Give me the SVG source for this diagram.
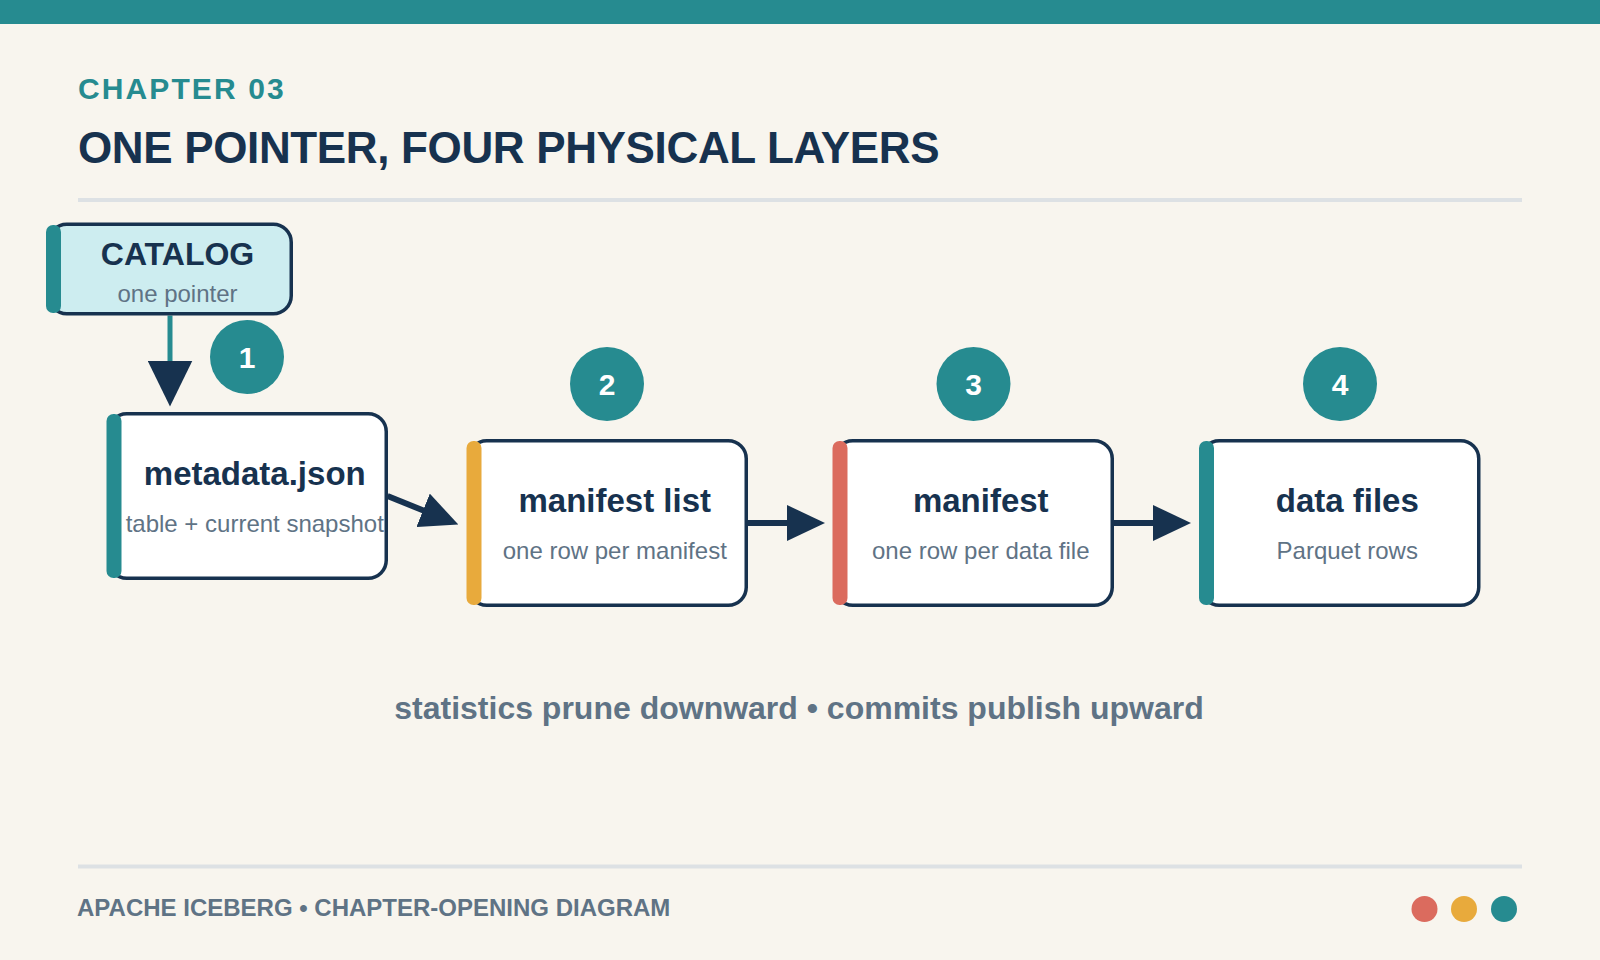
<svg xmlns="http://www.w3.org/2000/svg" width="1600" height="960" viewBox="0 0 1600 960">
  <defs>
    <style>
      .bg { fill: #f8f5ee; }
      .rule { stroke: #dde1e4; stroke-width: 4; }
      .kicker { font-family: "Liberation Sans", Arial, sans-serif; font-weight: 700; font-size: 30px; fill: #268b90; letter-spacing: 2.1px; }
      .title { font-family: "Liberation Sans", Arial, sans-serif; font-weight: 700; font-size: 44px; fill: #17324f; letter-spacing: -0.35px; }
      .box { fill: #ffffff; stroke: #17324f; stroke-width: 3.5; }
      .cat { fill: #cdedf0; stroke: #17324f; stroke-width: 3.5; }
      .name { font-family: "Liberation Sans", Arial, sans-serif; font-weight: 700; font-size: 33px; fill: #17324f; text-anchor: middle; }
      .catname { font-family: "Liberation Sans", Arial, sans-serif; font-weight: 700; font-size: 32px; fill: #17324f; text-anchor: middle; }
      .sub { font-family: "Liberation Sans", Arial, sans-serif; font-size: 24px; fill: #5f7385; text-anchor: middle; }
      .badge { fill: #268b90; }
      .num { font-family: "Liberation Sans", Arial, sans-serif; font-weight: 700; font-size: 30px; fill: #ffffff; text-anchor: middle; }
      .conn { stroke: #17324f; stroke-width: 6; fill: none; }
      .conn-cat { stroke: #268b90; stroke-width: 5; fill: none; }
      .caption { font-family: "Liberation Sans", Arial, sans-serif; font-weight: 700; font-size: 32px; fill: #5f7385; text-anchor: middle; }
      .footer { font-family: "Liberation Sans", Arial, sans-serif; font-weight: 700; font-size: 24px; fill: #5f7385; }
    </style>
    <marker id="arr" markerUnits="userSpaceOnUse" markerWidth="38" markerHeight="36" viewBox="0 0 38 36" refX="1" refY="18" orient="auto">
      <path d="M0,0 L38,18 L0,36 Z" fill="#17324f"/>
    </marker>
    <marker id="arrBig" markerUnits="userSpaceOnUse" markerWidth="46" markerHeight="45" viewBox="0 0 46 45" refX="1" refY="22.5" orient="auto">
      <path d="M0,0 L46,22.5 L0,45 Z" fill="#17324f"/>
    </marker>
  </defs>

  <rect class="bg" x="0" y="0" width="1600" height="960"/>
  <rect x="0" y="0" width="1600" height="24" fill="#268b90"/>

  <g id="header">
    <text class="kicker" x="78" y="99">CHAPTER 03</text>
    <text class="title" x="78" y="163">ONE POINTER, FOUR PHYSICAL LAYERS</text>
    <line class="rule" x1="78" y1="200" x2="1522" y2="200" stroke-width="3.5"/>
  </g>

  <g id="connectors">
    <line class="conn-cat" x1="170" y1="315.5" x2="170" y2="361.5" marker-end="url(#arrBig)"/>
    <line class="conn" x1="387.5" y1="496" x2="424" y2="510.7" marker-end="url(#arr)"/>
    <line class="conn" x1="748" y1="523" x2="788" y2="523" marker-end="url(#arr)"/>
    <line class="conn" x1="1114" y1="523" x2="1154" y2="523" marker-end="url(#arr)"/>
  </g>

  <g id="catalog">
    <rect class="cat" x="48.75" y="224.25" width="242.5" height="89.5" rx="18"/>
    <rect x="46" y="225" width="15" height="88" rx="7" fill="#268b90"/>
    <text class="catname" x="177.5" y="264.5">CATALOG</text>
    <text class="sub" x="177.5" y="302">one pointer</text>
  </g>

  <g id="metadata">
    <rect class="box" x="108.75" y="413.75" width="277.5" height="164.5" rx="18"/>
    <rect x="106.5" y="414" width="15" height="164" rx="7" fill="#268b90"/>
    <text class="name" x="254.75" y="485">metadata.json</text>
    <text class="sub" x="254.75" y="532">table + current snapshot</text>
    <circle class="badge" cx="247" cy="357" r="37"/>
    <text class="num" x="247" y="368">1</text>
  </g>

  <g id="manifest-list">
    <rect class="box" x="468.75" y="440.75" width="277.5" height="164.5" rx="18"/>
    <rect x="466.5" y="441" width="15" height="164" rx="7" fill="#e8aa3c"/>
    <text class="name" x="614.75" y="512">manifest list</text>
    <text class="sub" x="614.75" y="559">one row per manifest</text>
    <circle class="badge" cx="607" cy="384" r="37"/>
    <text class="num" x="607" y="395">2</text>
  </g>

  <g id="manifest">
    <rect class="box" x="834.75" y="440.75" width="277.5" height="164.5" rx="18"/>
    <rect x="832.5" y="441" width="15" height="164" rx="7" fill="#db6b5e"/>
    <text class="name" x="980.75" y="512">manifest</text>
    <text class="sub" x="980.75" y="559">one row per data file</text>
    <circle class="badge" cx="973.5" cy="384" r="37"/>
    <text class="num" x="973.5" y="395">3</text>
  </g>

  <g id="data-files">
    <rect class="box" x="1201.25" y="440.75" width="277.5" height="164.5" rx="18"/>
    <rect x="1199" y="441" width="15" height="164" rx="7" fill="#268b90"/>
    <text class="name" x="1347.25" y="512">data files</text>
    <text class="sub" x="1347.25" y="559">Parquet rows</text>
    <circle class="badge" cx="1340" cy="384" r="37"/>
    <text class="num" x="1340" y="395">4</text>
  </g>

  <g id="caption">
    <text class="caption" x="799" y="719">statistics prune downward • commits publish upward</text>
  </g>

  <g id="footer">
    <line class="rule" x1="78" y1="866.5" x2="1522" y2="866.5"/>
    <text class="footer" x="77" y="916">APACHE ICEBERG • CHAPTER-OPENING DIAGRAM</text>
    <circle cx="1424.5" cy="909" r="13" fill="#db6b5e"/>
    <circle cx="1464" cy="909" r="13" fill="#e8aa3c"/>
    <circle cx="1504" cy="909" r="13" fill="#268b90"/>
  </g>
</svg>
